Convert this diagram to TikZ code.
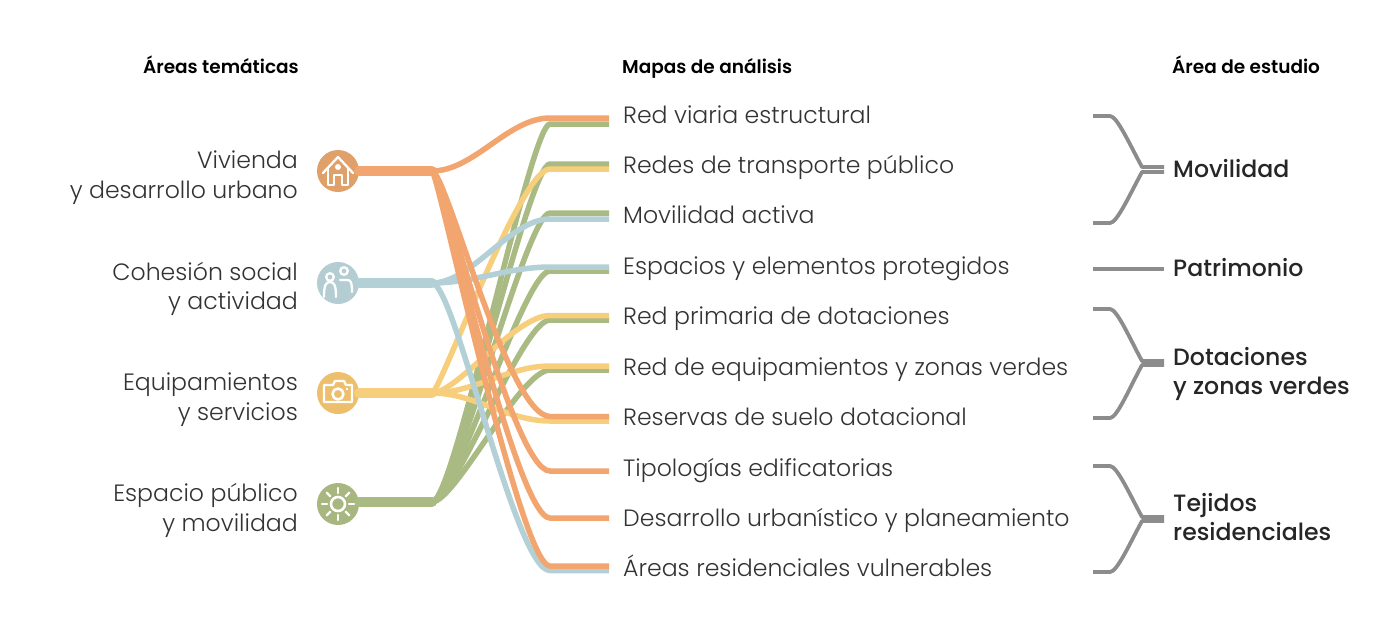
\documentclass[tikz,border=0pt]{standalone}
\usepackage{fontspec}
\setmainfont{Poppins}
\newfontfamily\lightf{Poppins}[UprightFont={* Light}]
\newfontfamily\medf{Poppins}[UprightFont={* Medium}]
\newfontfamily\semif{Poppins}[UprightFont={* SemiBold}]
\definecolor{cor}{HTML}{F2A56E}
\definecolor{cye}{HTML}{F7CE7C}
\definecolor{cbl}{HTML}{B3D0D6}
\definecolor{cgr}{HTML}{A9BA82}
\definecolor{ior}{HTML}{E0A06A}
\definecolor{iye}{HTML}{EDBE6C}
\definecolor{ibl}{HTML}{B3CDD3}
\definecolor{igr}{HTML}{A8B67F}
\definecolor{gbr}{HTML}{8C8C8C}
\definecolor{txt}{HTML}{333333}
\tikzset{
  head/.style={font=\semif\fontsize{18.5}{20}\selectfont,text=black,inner sep=0pt},
  themelabel/.style={font=\lightf\fontsize{23.6}{29.5}\selectfont,text=txt,align=right,anchor=east,inner sep=0pt},
  maplabel/.style={font=\lightf\fontsize{23.6}{28}\selectfont,text=txt,anchor=base west,inner sep=0pt},
  arealabel/.style={font=\medf\fontsize{23.6}{29}\selectfont,text=black!85,align=left,anchor=west,inner sep=0pt},
  trunk/.style={line width=10pt},
  branch/.style={line width=5.5pt},
  bracket/.style={line width=3.8pt,draw=gbr,line join=round},
  themedot/.style={circle,minimum size=42pt,inner sep=0pt},
  icon/.style={draw=white,line width=2.3pt,fill=none,line join=round,line cap=round},
}
\newcommand\flow[6]{% colour, source, bend, end, ctrl out, ctrl in
  \draw[branch,#1] (#2) .. controls +(#5,0) and +(-#6,0) .. (#3) -- (#4);}
\newcommand\brkup[2]{\draw[bracket] (#1) -- +(17,0) .. controls +(7,0) and +(-12,-22) .. ([xshift=-22pt]#2) -- (#2);}
\newcommand\brkdn[2]{\draw[bracket] (#1) -- +(17,0) .. controls +(7,0) and +(-12,22) .. ([xshift=-22pt]#2) -- (#2);}
\begin{document}
\begin{tikzpicture}[x=1pt,y=-1pt]
\useasboundingbox (0,0) rectangle (1400,633);
\fill[white] (0,0) rectangle (1400,633);
% headers
\node[head,anchor=base east] (h1) at (299,73) {Áreas temáticas};
\node[head,anchor=base west] (h2) at (622,73) {Mapas de análisis};
\node[head,anchor=base west] (h3) at (1172,73) {Área de estudio};
% theme labels
\node[themelabel] (t1) at (298,177.5) {Vivienda\strut\\y desarrollo urbano\strut};
\node[themelabel] (t2) at (298,289) {Cohesión social\strut\\y actividad\strut};
\node[themelabel] (t3) at (298,399.5) {Equipamientos\strut\\y servicios\strut};
\node[themelabel] (t4) at (298,510.5) {Espacio público\strut\\y movilidad\strut};
% map labels
\node[maplabel] (m1) at (623,123) {Red viaria estructural};
\node[maplabel] (m2) at (623,173) {Redes de transporte público};
\node[maplabel] (m3) at (623,223) {Movilidad activa};
\node[maplabel] (m4) at (623,274) {Espacios y elementos protegidos};
\node[maplabel] (m5) at (623,324) {Red primaria de dotaciones};
\node[maplabel] (m6) at (623,375) {Red de equipamientos y zonas verdes};
\node[maplabel] (m7) at (623,425) {Reservas de suelo dotacional};
\node[maplabel] (m8) at (623,476) {Tipologías edificatorias};
\node[maplabel] (m9) at (623,526) {Desarrollo urbanístico y planeamiento};
\node[maplabel] (m10) at (623,576) {Áreas residenciales vulnerables};
% area labels
\node[arealabel] (a1) at (1173,172) {Movilidad\strut};
\node[arealabel] (a2) at (1173,271) {Patrimonio\strut};
\node[arealabel] (a3) at (1173,374.5) {Dotaciones\strut\\y zonas verdes\strut};
\node[arealabel] (a4) at (1173,520.5) {Tejidos\strut\\residenciales\strut};
% hubs
\coordinate (sor) at (432,171);
\coordinate (sbl) at (432,283);
\coordinate (sye) at (432,393);
\coordinate (sgr) at (432,502);
% flow ends: bend point and end per map, per colour
\foreach \n/\y in {or1/118,gr1/124,gr2/164,ye2/169,gr3/213,bl3/219,bl4/267,gr4/271,ye5/315.5,gr5/320,ye6/366,gr6/370,or7/416.5,ye7/421,or8/471,or9/518,or10/566,bl10/570.5}{
  \coordinate (b\n) at (550,\y);
  \coordinate (e\n) at (609,\y);
}
% green
\flow{cgr}{sgr}{bgr1}{egr1}{23}{20}
\flow{cgr}{sgr}{bgr2}{egr2}{23}{22}
\flow{cgr}{sgr}{bgr3}{egr3}{23}{24}
\flow{cgr}{sgr}{bgr4}{egr4}{23}{26}
\flow{cgr}{sgr}{bgr5}{egr5}{23}{28}
\flow{cgr}{sgr}{bgr6}{egr6}{23}{30}
% yellow
\flow{cye}{sye}{bye2}{eye2}{8}{30}
\flow{cye}{sye}{bye5}{eye5}{25}{35}
\flow{cye}{sye}{bye6}{eye6}{42}{42}
\flow{cye}{sye}{bye7}{eye7}{42}{42}
% blue
\flow{cbl}{sbl}{bbl3}{ebl3}{40}{40}
\flow{cbl}{sbl}{bbl4}{ebl4}{42}{42}
\flow{cbl}{sbl}{bbl10}{ebl10}{23}{35}
% orange
\flow{cor}{sor}{bor1}{eor1}{42}{42}
\flow{cor}{sor}{bor7}{eor7}{14}{42}
\flow{cor}{sor}{bor8}{eor8}{11}{38}
\flow{cor}{sor}{bor9}{eor9}{8}{34}
\flow{cor}{sor}{bor10}{eor10}{6}{30}
% theme dots and trunks
\node[themedot,fill=ior] (d1) at (338,171) {};
\node[themedot,fill=ibl] (d2) at (338,283) {};
\node[themedot,fill=iye] (d3) at (338,393) {};
\node[themedot,fill=igr] (d4) at (338,504) {};
\draw[trunk,cor,line cap=round] (d1.east) -- (sor);
\draw[trunk,cbl,line cap=round] (d2.east) -- (sbl);
\draw[trunk,cye,line cap=round] (d3.east) -- (sye);
\draw[trunk,cgr,line cap=round] (d4.east |- sgr) -- (sgr);
% icons
\begin{scope}[shift={(d1)}]
  \draw[icon] (-15,2) -- (0,-14) -- (15,2);
  \draw[icon] (-10,-2) -- (-10,14) -- (-4,14) -- (-4,4) -- (4,4) -- (4,14) -- (10,14) -- (10,-2);
  \fill[white] (0,-4) circle (3);
\end{scope}
\begin{scope}[shift={(d2)}]
  \draw[icon] (-14,14) .. controls (-14,2) and (-12,-1) .. (-8,-1) .. controls (-4,-1) and (-2,2) .. (-2,14);
  \draw[icon] (-8,-6) circle (3.8);
  \draw[icon] (2,-3) -- (9,-3) .. controls (13,-3) and (14,-1) .. (14,9);
  \draw[icon] (6,-12) circle (3.8);
\end{scope}
\begin{scope}[shift={(d3)}]
  \draw[icon] (-14,-8) -- (-5,-8) -- (-3,-12) -- (6,-12) -- (8,-8) -- (14,-8) -- (14,9) -- (-14,9) -- cycle;
  \draw[icon,line width=2.6pt] (0,1) circle (5.5);
  \fill[white] (9,-4) circle (1.3);
\end{scope}
\begin{scope}[shift={(d4)}]
  \draw[icon,line width=2.6pt] (0,0) circle (7);
  \foreach \a in {0,45,...,315}{\draw[icon] (\a:11) -- (\a:16);}
\end{scope}
% brackets
\coordinate (k1a) at (1093,116); \coordinate (k1b) at (1093,223);
\coordinate (k1c) at (1164,167); \coordinate (k1d) at (1164,172);
\coordinate (k2a) at (1093,269); \coordinate (k2b) at (1164,269);
\coordinate (k3a) at (1093,309); \coordinate (k3b) at (1093,418);
\coordinate (k3c) at (1164,361); \coordinate (k3d) at (1164,365);
\coordinate (k4a) at (1093,466); \coordinate (k4b) at (1093,572);
\coordinate (k4c) at (1164,517); \coordinate (k4d) at (1164,521);
\brkup{k1a}{k1c}
\brkdn{k1b}{k1d}
\draw[bracket] (k2a) -- (k2b);
\brkup{k3a}{k3c}
\brkdn{k3b}{k3d}
\brkup{k4a}{k4c}
\brkdn{k4b}{k4d}
\end{tikzpicture}
\end{document}
